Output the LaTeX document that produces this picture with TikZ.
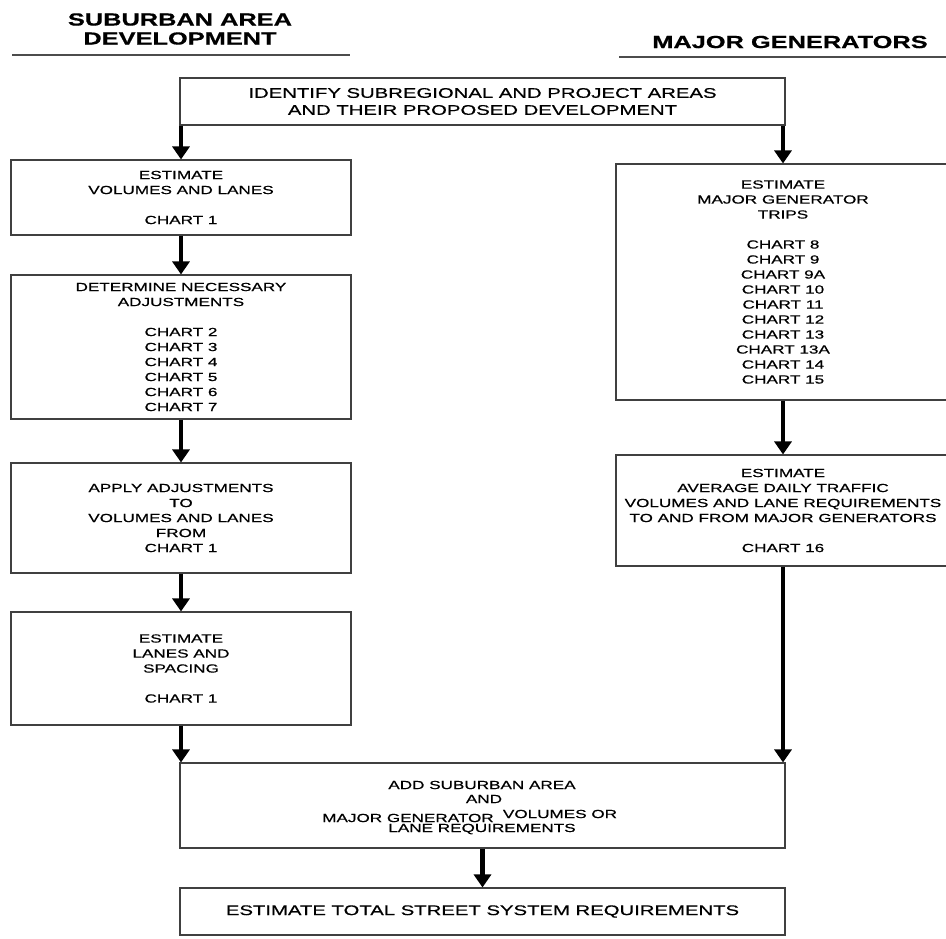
\documentclass[tikz,border=0pt]{standalone}
\usepackage{fontspec}
\setmainfont{Liberation Sans}[FakeStretch=1.45,FakeBold=0.6]
\usetikzlibrary{arrows.meta}
\begin{document}
\begin{tikzpicture}[x=1pt,y=-1pt,
  box/.style={draw=black!75, line width=1.1pt, rectangle, align=center, inner sep=0pt,
    font=\fontsize{11.8}{15}\selectfont},
  big/.style={font=\fontsize{14}{17}\selectfont},
  txt/.style={inner sep=0pt, font=\fontsize{11.8}{15}\selectfont},
  arr/.style={line width=4.2pt, -{Triangle[width=17pt,length=13pt]}},
  hdr/.style={align=center, inner sep=0pt, font=\bfseries\fontsize{17.5}{19}\selectfont},
  uline/.style={line width=1.6pt, black!70}]
\useasboundingbox (0,0) rectangle (946,938);

% headers
\node[hdr] (h1) at (180,29) {SUBURBAN AREA\\DEVELOPMENT};
\node[hdr] (h2) at (790,42) {MAJOR GENERATORS};
\coordinate (u1a) at (12,55);  \coordinate (u1b) at (350,55);
\coordinate (u2a) at (619,57); \coordinate (u2b) at (946,57);
\draw[uline] (u1a) -- (u1b);
\draw[uline] (u2a) -- (u2b);

% top box
\node[box, big, minimum width=605pt, minimum height=47pt] (top) at (482.5,101.5)
  {IDENTIFY SUBREGIONAL AND PROJECT AREAS\\AND THEIR PROPOSED DEVELOPMENT};

% left column
\node[box, minimum width=340pt, minimum height=75pt] (lb1) at (181,197.5)
  {ESTIMATE\\VOLUMES AND LANES\\[15pt]CHART 1};
\node[box, minimum width=340pt, minimum height=144pt] (lb2) at (181,347)
  {DETERMINE NECESSARY\\ADJUSTMENTS\\[15pt]CHART 2\\CHART 3\\CHART 4\\CHART 5\\CHART 6\\CHART 7};
\node[box, minimum width=340pt, minimum height=110pt] (lb3) at (181,518)
  {APPLY ADJUSTMENTS\\TO\\VOLUMES AND LANES\\FROM\\CHART 1};
\node[box, minimum width=340pt, minimum height=113pt] (lb4) at (181,668.5)
  {ESTIMATE\\LANES AND\\SPACING\\[15pt]CHART 1};

% right column
\node[box, minimum width=334pt, minimum height=236pt] (rb1) at (783,282)
  {ESTIMATE\\MAJOR GENERATOR\\TRIPS\\[15pt]CHART 8\\CHART 9\\CHART 9A\\CHART 10\\CHART 11\\CHART 12\\CHART 13\\CHART 13A\\CHART 14\\CHART 15};
\node[box, minimum width=334pt, minimum height=111pt] (rb2) at (783,510.5)
  {ESTIMATE\\AVERAGE DAILY TRAFFIC\\VOLUMES AND LANE REQUIREMENTS\\TO AND FROM MAJOR GENERATORS\\[15pt]CHART 16};

% bottom boxes
\node[box, minimum width=605pt, minimum height=85pt] (bot) at (482.5,805.5) {};
\node[txt] (b1) at (482,785) {ADD SUBURBAN AREA};
\node[txt] (b2) at (484,799) {AND};
\node[txt] (b3) at (408,818) {MAJOR GENERATOR};
\node[txt] (b4) at (560,814) {VOLUMES OR};
\node[txt] (b5) at (482,829) {LANE REQUIREMENTS};
\node[box, big, minimum width=605pt, minimum height=47pt] (fin) at (482.5,911.5)
  {ESTIMATE TOTAL STREET SYSTEM REQUIREMENTS};

% connectors
\draw[arr] (top.south -| lb1.north) -- (lb1.north);
\draw[arr] (top.south -| rb1.north) -- (rb1.north);
\draw[arr] (lb1) -- (lb2);
\draw[arr] (lb2) -- (lb3);
\draw[arr] (lb3) -- (lb4);
\draw[arr] (lb4.south) -- (lb4.south |- bot.north);
\draw[arr] (rb1) -- (rb2);
\draw[arr] (rb2.south) -- (rb2.south |- bot.north);
\draw[arr] (bot) -- (fin);
\end{tikzpicture}
\end{document}
